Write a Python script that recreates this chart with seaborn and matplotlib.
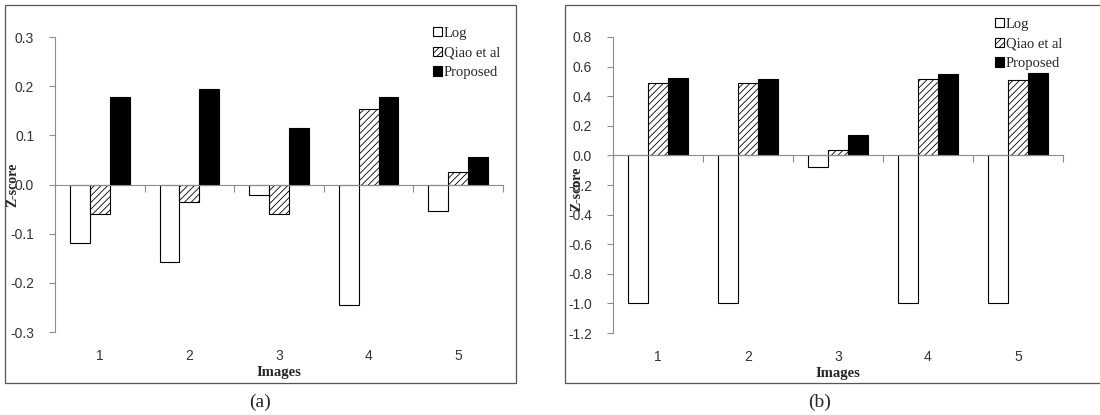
import numpy as np
import pandas as pd
import matplotlib
matplotlib.use('Agg')
import matplotlib.pyplot as plt
import matplotlib.ticker as mticker
import matplotlib.transforms as mtransforms
from matplotlib.patches import Rectangle
import seaborn as sns

# data
images = ['1', '2', '3', '4', '5']
methods = ['Log', 'Qiao et al', 'Proposed']

log_a = [-0.118, -0.157, -0.022, -0.245, -0.054]
qiao_a = [-0.060, -0.036, -0.060, 0.153, 0.025]
prop_a = [0.177, 0.194, 0.115, 0.177, 0.056]

log_b = [-1.0, -1.0, -0.081, -1.0, -1.0]
qiao_b = [0.487, 0.491, 0.038, 0.516, 0.512]
prop_b = [0.525, 0.516, 0.135, 0.550, 0.559]

yticks_a = [-0.3, -0.2, -0.1, 0.0, 0.1, 0.2, 0.3]
yticks_b = [-1.2, -1.0, -0.8, -0.6, -0.4, -0.2, 0.0, 0.2, 0.4, 0.6, 0.8]


def long_df(log, qiao, prop):
    rows = []
    for m, vals in zip(methods, [log, qiao, prop]):
        for img, v in zip(images, vals):
            rows.append({'Image': img, 'Method': m, 'Z': v})
    return pd.DataFrame(rows)


sns.set_style('white')
plt.rcParams['hatch.linewidth'] = 0.6
W, H = 1100, 415
fig = plt.figure(figsize=(11, 4.15), dpi=100)

# panel frames
fig.add_artist(Rectangle((5 / W, 1 - 383 / H), 511 / W, 378 / H, transform=fig.transFigure,
                         fill=False, edgecolor='#555555', linewidth=0.9))
fig.add_artist(Rectangle((565 / W, 1 - 383 / H), 540 / W, 378 / H, transform=fig.transFigure,
                         fill=False, edgecolor='#555555', linewidth=0.9))

gray = '#8c8c8c'
sans = 'Liberation Sans'
serif = 'Liberation Serif'

panels = [
    # axes rect in px (left, top, right, bottom), data, ticks, legend anchor px
    ((55, 37, 503, 332), (log_a, qiao_a, prop_a), yticks_a, (433, 27), (-0.093, 0.5), '(a)', 260),
    ((613, 37, 1063, 333), (log_b, qiao_b, prop_b), yticks_b, (995, 18), (-0.08, 0.486), '(b)', 820),
]

for (l, t, r, b), vals, yt, leg_xy, ylab_xy, cap, cap_x in panels:
    ax = fig.add_axes([l / W, 1 - b / H, (r - l) / W, (b - t) / H])
    df = long_df(*vals)
    sns.barplot(data=df, x='Image', y='Z', hue='Method', hue_order=methods, order=images,
                width=0.667, ax=ax, legend=False)
    styles = [('white', ''), ('white', '/////'), ('black', '')]
    for cont, (fc, hatch) in zip(ax.containers, styles):
        for p in cont.patches:
            p.set_facecolor(fc)
            p.set_edgecolor('black')
            p.set_linewidth(0.8)
            p.set_hatch(hatch)

    ax.set_xlim(-0.5, 4.5)
    ax.set_ylim(yt[0], yt[-1])
    ax.set_yticks(yt)
    ax.yaxis.set_major_formatter(mticker.FormatStrFormatter('%.1f'))
    ax.tick_params(axis='y', left=True, direction='out', length=4, color=gray,
                   labelsize=10, labelcolor='#333333', pad=11)
    for lab in ax.get_yticklabels():
        lab.set_fontfamily(sans)

    for s in ['top', 'right']:
        ax.spines[s].set_visible(False)
    ax.spines['left'].set_color(gray)
    ax.spines['bottom'].set_color(gray)
    ax.spines['bottom'].set_position(('data', 0))
    ax.set_xticks(np.arange(-0.5, 5, 1))
    ax.set_xticklabels([])
    ax.tick_params(axis='x', bottom=True, direction='out', length=5, color=gray)

    trans = mtransforms.blended_transform_factory(ax.transData, ax.transAxes)
    for i, img in enumerate(images):
        ax.text(i, -0.08, img, transform=trans, ha='center', va='center',
                fontsize=10, family=sans, color='#333333')
    ax.text(2, -0.137, 'Images', transform=trans, ha='center', va='center',
            fontsize=10.5, family=serif, fontweight='bold')
    ax.set_xlabel('')
    ax.set_ylabel('')
    ax.text(ylab_xy[0], ylab_xy[1], 'Z-score', transform=ax.transAxes, rotation=90,
            ha='center', va='center', fontsize=10, family=serif, fontweight='bold')

    ax.legend(ax.containers, methods, loc='upper left',
              bbox_to_anchor=(leg_xy[0] / W, 1 - leg_xy[1] / H), bbox_transform=fig.transFigure,
              frameon=False, borderpad=0, borderaxespad=0, handlelength=0.6, handleheight=0.6,
              handletextpad=0.15, labelspacing=0.45, prop={'family': serif, 'size': 10.5})

    fig.text(cap_x / W, 1 - 402 / H, cap, ha='center', va='center', fontsize=14, family=serif)

fig.savefig('out.png', dpi=100)
